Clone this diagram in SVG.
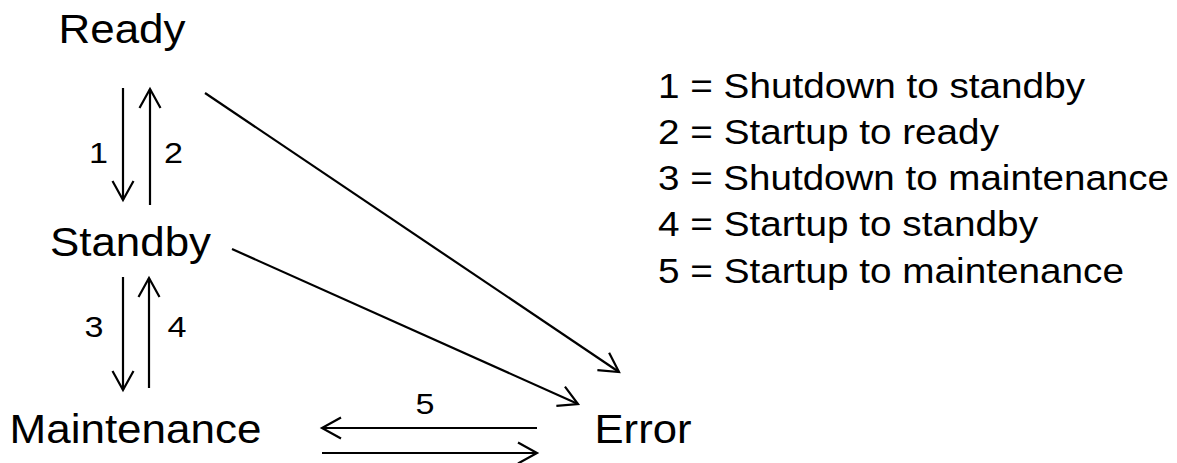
<svg xmlns="http://www.w3.org/2000/svg" width="1177" height="463" viewBox="0 0 1177 463">
  <style>
    text { font-family: "Liberation Sans", Arial, sans-serif; fill: #000; }
    .state { font-size: 41px; }
    .num { font-size: 29px; }
    .legend { font-size: 35.5px; }
    .edge { stroke: #000; stroke-width: 2.2; fill: none; marker-end: url(#head); }
  </style>
  <defs>
    <marker id="head" markerUnits="userSpaceOnUse" viewBox="-22 -13 24 26" refX="0" refY="0" markerWidth="24" markerHeight="26" orient="auto" overflow="visible">
      <path d="M -19 -10.5 L 0 0 L -19 10.5" fill="none" stroke="#000" stroke-width="2.2" stroke-linejoin="miter"/>
    </marker>
  </defs>
  <rect width="1177" height="463" fill="#fff"/>

  <!-- states (glyphs set slightly wide) -->
  <g id="ready"><text class="state" x="58.5" y="43" textLength="127" lengthAdjust="spacingAndGlyphs">Ready</text></g>
  <g id="standby"><text class="state" x="50" y="256" textLength="161" lengthAdjust="spacingAndGlyphs">Standby</text></g>
  <g id="maintenance"><text class="state" x="9.5" y="443" textLength="252" lengthAdjust="spacingAndGlyphs">Maintenance</text></g>
  <g id="error"><text class="state" x="594.5" y="443" textLength="97" lengthAdjust="spacingAndGlyphs">Error</text></g>

  <!-- transitions -->
  <g id="connectors">
    <line class="edge" x1="123" y1="88" x2="123" y2="200"/>
    <line class="edge" x1="150" y1="205" x2="150" y2="89"/>
    <line class="edge" x1="123" y1="277" x2="123" y2="390"/>
    <line class="edge" x1="149" y1="388" x2="149" y2="278"/>
    <line class="edge" x1="537" y1="428" x2="322" y2="428"/>
    <line class="edge" x1="322" y1="453" x2="537" y2="453"/>
    <line class="edge" x1="205" y1="93" x2="619" y2="372"/>
    <line class="edge" x1="232" y1="249" x2="578" y2="404"/>
  </g>

  <!-- transition numbers -->
  <g id="edge-labels">
    <text class="num" x="89" y="163" textLength="19" lengthAdjust="spacingAndGlyphs">1</text>
    <text class="num" x="164" y="163" textLength="19" lengthAdjust="spacingAndGlyphs">2</text>
    <text class="num" x="84.5" y="337" textLength="19" lengthAdjust="spacingAndGlyphs">3</text>
    <text class="num" x="167.5" y="337" textLength="19" lengthAdjust="spacingAndGlyphs">4</text>
    <text class="num" x="415.5" y="414" textLength="19" lengthAdjust="spacingAndGlyphs">5</text>
  </g>

  <!-- key -->
  <g id="legend">
    <text class="legend" x="658" y="98" textLength="427" lengthAdjust="spacingAndGlyphs">1 = Shutdown to standby</text>
    <text class="legend" x="658" y="144" textLength="341" lengthAdjust="spacingAndGlyphs">2 = Startup to ready</text>
    <text class="legend" x="658" y="190" textLength="511" lengthAdjust="spacingAndGlyphs">3 = Shutdown to maintenance</text>
    <text class="legend" x="658" y="236" textLength="380" lengthAdjust="spacingAndGlyphs">4 = Startup to standby</text>
    <text class="legend" x="658" y="283" textLength="466" lengthAdjust="spacingAndGlyphs">5 = Startup to maintenance</text>
  </g>
</svg>
